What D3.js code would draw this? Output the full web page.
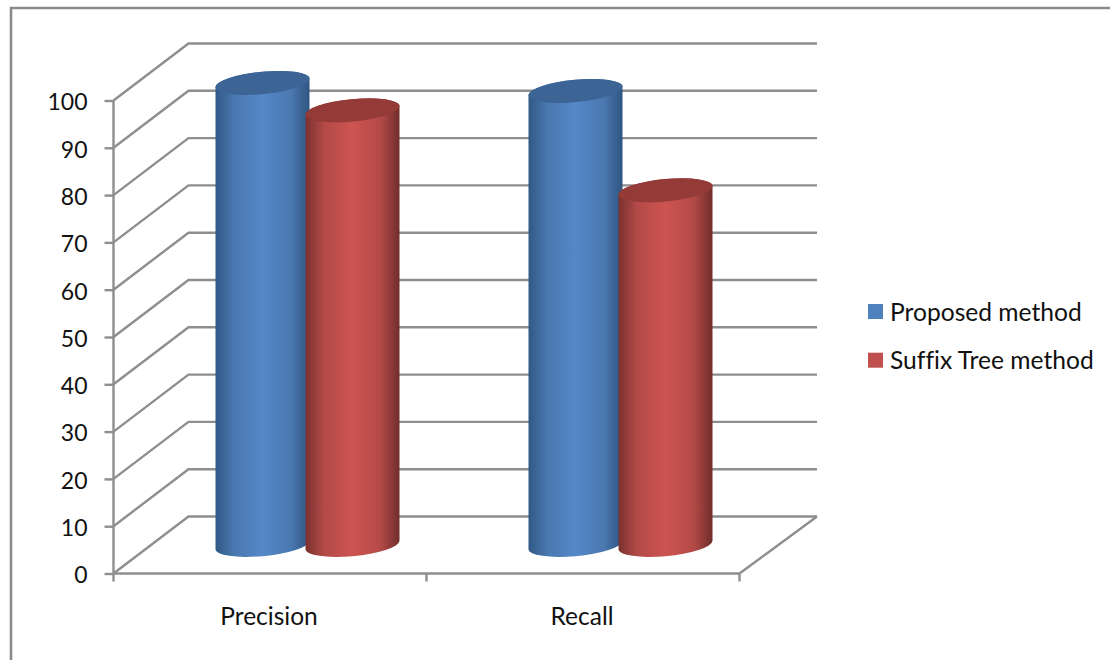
<!DOCTYPE html>
<html>
<head>
<meta charset="utf-8">
<script src="https://cdn.jsdelivr.net/npm/d3@7/dist/d3.min.js"></script>
<style>
  html, body { margin: 0; padding: 0; background: #fff; }
  svg { display: block; }
  text { font-family: Lato, "Open Sans", sans-serif; fill: #111; font-variant-ligatures: none; }
</style>
</head>
<body>
<svg id="chart" width="1110" height="660"></svg>
<script>
const categories = ["Precision", "Recall"];
const seriesNames = ["Proposed method", "Suffix Tree method"];
const proposedValues = [97.7, 96];
const suffixTreeValues = [91.9, 75];
const valueTicks = [0, 10, 20, 30, 40, 50, 60, 70, 80, 90, 100];

const faceColors = ["#4f81bd", "#c0504d"];
const topColors = ["#3c6494", "#943a37"];
const sideStops = [
  ["#2f5985", "#4a78b0", "#5587c8", "#4a78b0", "#2f5581"],
  ["#7a3230", "#b34a47", "#cd5451", "#b34a47", "#6f2d2b"]
];
const gridColor = "#8e8e8e";

const svg = d3.select("#chart");
const defs = svg.append("defs");

// Front edge of the plot box, and how far the back wall is pushed by the 3D depth.
const x = d3.scaleBand().domain(categories).range([113.5, 739.5]);
const y = d3.scaleLinear().domain([0, 100]).range([573.5, 100.5]);
const depthX = 75, depthY = 57;
const wallRight = 817;

// Outer frame: only the top and left edges are visible.
svg.append("path")
  .attr("d", "M11,660V8H1110")
  .attr("fill", "none").attr("stroke", "#8a8a8a").attr("stroke-width", 2.6);

// Gridlines on the back wall and their slanted continuation on the side wall.
const grid = svg.append("g").attr("fill", "none").attr("stroke", gridColor).attr("stroke-width", 2.4);
grid.selectAll("path.wall").data(valueTicks).join("path")
  .attr("class", "wall")
  .attr("d", v => `M${x.range()[0]},${y(v)}L${x.range()[0] + depthX},${y(v) - depthY}H${wallRight}`);

// Floor's right edge.
grid.append("path")
  .attr("d", `M${x.range()[1]},${y(0)}L${wallRight},${y(0) - depthY}`);

// Value axis on the front left edge.
const yAxis = svg.append("g")
  .attr("transform", `translate(${x.range()[0]},0)`)
  .call(d3.axisLeft(y).tickValues(valueTicks).tickSize(9).tickPadding(17));
yAxis.selectAll("line, path").attr("stroke", gridColor).attr("stroke-width", 2.4);
yAxis.select("path").attr("d", `M0,${y(100)}V${y(0)}`);
yAxis.selectAll("text").attr("font-size", 23).attr("y", 2);

// Category axis; its ticks sit on the band boundaries.
const xAxisGroup = svg.append("g").attr("transform", `translate(0,${y(0)})`);
const bandEdges = categories.map(c => x(c)).concat(x.range()[1]);
xAxisGroup.append("path")
  .attr("d", `M${x.range()[0]},0H${x.range()[1]}`)
  .attr("stroke", gridColor).attr("stroke-width", 2.6).attr("fill", "none");
xAxisGroup.selectAll("line").data(bandEdges).join("line")
  .attr("x1", d => d).attr("x2", d => d).attr("y1", 0).attr("y2", 8)
  .attr("stroke", gridColor).attr("stroke-width", 2.4);
xAxisGroup.selectAll("text").data(categories).join("text")
  .attr("x", d => x(d) + x.bandwidth() / 2 - 1)
  .attr("y", 43)
  .attr("dy", "0.35em")
  .attr("text-anchor", "middle")
  .attr("font-size", 24.5)
  .text(d => d);

// Horizontal shading that gives each column its round look.
sideStops.forEach((stops, i) => {
  const gradient = defs.append("linearGradient").attr("id", `side-${i}`);
  stops.forEach((color, k) => {
    gradient.append("stop")
      .attr("offset", [0, 0.2, 0.5, 0.8, 1][k])
      .attr("stop-color", color);
  });
});

// Columns stand on the middle of the depth, and are seen slightly rotated.
const radiusX = 47.2, radiusY = 11.2, tilt = -5.4;
const halfWidth = 47, edgeDrop = 4.2;
const columns = [];
categories.forEach((c, ci) => {
  columns.push({ cat: c, s: 0, value: proposedValues[ci] });
  columns.push({ cat: c, s: 1, value: suffixTreeValues[ci] });
});
const arc = (toX, toY) => `A${radiusX},${radiusY} ${tilt} 0 0 ${toX},${toY}`;

const col = svg.append("g").selectAll("g").data(columns).join("g");
col.each(function (d) {
  const g = d3.select(this);
  const cx = x(d.cat) + x.bandwidth() / 2 + depthX / 2 + (d.s === 0 ? -45 : 45);
  const yTop = y(d.value) - depthY / 2;
  const yBase = y(0) - depthY / 2;
  const L = cx - halfWidth, R = cx + halfWidth;
  g.append("path")
    .attr("fill", `url(#side-${d.s})`)
    .attr("d", `M${L},${yTop + edgeDrop}V${yBase + edgeDrop}` +
               arc(R, yBase - edgeDrop) +
               `V${yTop - edgeDrop}` +
               arc(L, yTop + edgeDrop) + "Z");
  g.append("ellipse")
    .attr("rx", radiusX).attr("ry", radiusY)
    .attr("transform", `translate(${cx},${yTop}) rotate(${tilt})`)
    .attr("fill", topColors[d.s]);
});

// Legend.
const legend = svg.append("g").selectAll("g").data(seriesNames).join("g")
  .attr("transform", (d, i) => `translate(868,${304 + i * 48.7})`);
legend.append("rect").attr("width", 15).attr("height", 15)
  .attr("fill", (d, i) => faceColors[i]);
legend.append("text")
  .attr("x", 22).attr("y", 8).attr("dy", "0.35em")
  .attr("font-size", 24.6)
  .text(d => d);
</script>
</body>
</html>
